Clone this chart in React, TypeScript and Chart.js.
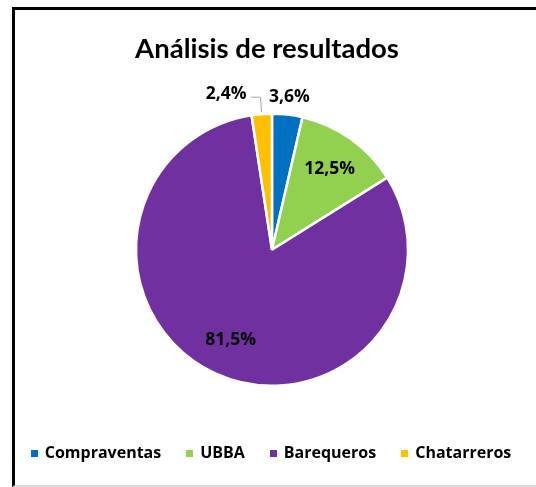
import React, { useEffect, useRef } from "react";
import { Chart, registerables } from "chart.js";

Chart.register(...registerables);

const categories = ["Compraventas", "UBBA", "Barequeros", "Chatarreros"];
const shares = [3.6, 12.5, 81.5, 2.4];
const sliceColors = ["#0070C0", "#92D050", "#7030A0", "#FFC000"];
const titleText = "Análisis de resultados";

const TITLE_FONT = "Lato";
const FONT = "'Open Sans'";

function fmt(v: number) {
  return v.toFixed(1).replace(".", ",") + "%";
}

const labelPlugin = {
  id: "sliceLabels",
  afterDatasetsDraw(chart: any) {
    const ctx = chart.ctx;
    const meta = chart.getDatasetMeta(0);
    ctx.save();
    ctx.font = `bold 17.5px ${FONT}`;
    ctx.fillStyle = "#000";
    ctx.textBaseline = "middle";
    meta.data.forEach((arc: any, i: number) => {
      const p = arc.getProps(["x", "y", "startAngle", "endAngle", "outerRadius"], true);
      const mid = (p.startAngle + p.endAngle) / 2;
      const pct = shares[i];
      const text = fmt(pct);
      const cos = Math.cos(mid);
      const sin = Math.sin(mid);
      if (pct >= 10) {
        const r = p.outerRadius * 0.73;
        ctx.textAlign = "center";
        ctx.fillText(text, p.x + cos * r, p.y + sin * r);
      } else if (cos >= 0) {
        const r = p.outerRadius + 18;
        ctx.textAlign = "center";
        ctx.fillText(text, p.x + cos * r, p.y + sin * r);
      } else {
        const r0 = p.outerRadius + 2;
        const r1 = p.outerRadius + 17;
        const x0 = p.x + cos * r0;
        const y0 = p.y + sin * r0;
        const x1 = p.x + cos * r1;
        const y1 = p.y + sin * r1;
        const x2 = x1 - 10;
        ctx.strokeStyle = "#A6A6A6";
        ctx.lineWidth = 1;
        ctx.beginPath();
        ctx.moveTo(x0, y0);
        ctx.lineTo(x1, y1);
        ctx.lineTo(x2, y1);
        ctx.stroke();
        ctx.textAlign = "right";
        ctx.fillText(text, x2 - 4, y1 - 3);
      }
    });
    ctx.restore();
  },
};

const titleLegendPlugin = {
  id: "titleAndLegend",
  afterDraw(chart: any) {
    const ctx = chart.ctx;
    ctx.save();
    const cx = (chart.chartArea.left + chart.chartArea.right) / 2;
    // title
    ctx.font = `bold 27.5px ${TITLE_FONT}`;
    ctx.fillStyle = "#000";
    ctx.textAlign = "center";
    ctx.textBaseline = "middle";
    ctx.fillText(titleText, cx - 5, 49);
    // legend
    ctx.font = `bold 16px ${FONT}`;
    ctx.textAlign = "left";
    const box = 7;
    const gapBoxText = 7;
    const gapItems = 25;
    const widths = categories.map((c) => box + gapBoxText + ctx.measureText(c).width);
    const total = widths.reduce((a, b) => a + b, 0) + gapItems * (categories.length - 1);
    const y = chart.height - 34;
    let x = cx - 1 - total / 2;
    categories.forEach((c, i) => {
      ctx.fillStyle = sliceColors[i];
      ctx.fillRect(Math.round(x), Math.round(y - box / 2), box, box);
      ctx.fillStyle = "#000";
      ctx.fillText(c, x + box + gapBoxText, y);
      x += widths[i] + gapItems;
    });
    ctx.restore();
  },
};

export default function App() {
  const ref = useRef<HTMLCanvasElement | null>(null);
  useEffect(() => {
    if (!ref.current) return;
    Chart.defaults.font.family = FONT;
    const chart = new Chart(ref.current, {
      type: "pie",
      data: {
        labels: categories,
        datasets: [
          {
            data: shares,
            backgroundColor: sliceColors,
            borderColor: "#ffffff",
            borderWidth: 2.5,
            radius: 136,
          } as any,
        ],
      },
      options: {
        responsive: false,
        maintainAspectRatio: false,
        animation: false,
        layout: { padding: { left: 8, right: 0, top: 80, bottom: 67.5 } },
        plugins: {
          title: { display: false },
          legend: { display: false },
          tooltip: { enabled: false },
        },
      },
      plugins: [labelPlugin, titleLegendPlugin],
    });
    return () => chart.destroy();
  }, []);

  return (
    <div style={{ position: "fixed", left: 0, top: 0, width: 536, height: 487, background: "#fff", overflow: "hidden" }}>
      <div
        style={{
          position: "absolute",
          left: 12,
          top: 7,
          width: 540,
          height: 475,
          borderTop: "3px solid #000",
          borderLeft: "3px solid #000",
          borderBottom: "2px solid #D9D9D9",
        }}
      />
      <canvas ref={ref} width={536} height={487} style={{ position: "absolute", left: 0, top: 0 }} />
    </div>
  );
}
